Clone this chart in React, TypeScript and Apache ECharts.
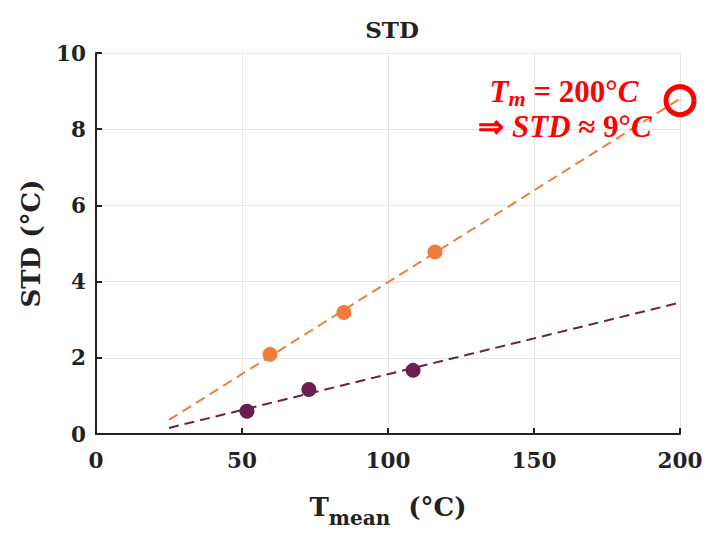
import React, { useEffect, useRef } from "react";
import * as echarts from "echarts";

const xTicks = [0, 50, 100, 150, 200];
const yTicks = [0, 2, 4, 6, 8, 10];
const orangePoints: [number, number][] = [[59.6, 2.09], [84.9, 3.19], [116.1, 4.78]];
const purplePoints: [number, number][] = [[51.7, 0.6], [72.9, 1.17], [108.6, 1.67]];
const orangeFit: [number, number][] = [[25, 0.37], [200, 8.8]];
const purpleFit: [number, number][] = [[25, 0.16], [200, 3.45]];
const highlight: [number, number][] = [[200, 8.75]];

const ORANGE = "#EE7E3A";
const PURPLE = "#6B1F4C";
const SERIF = "'DejaVu Serif', 'Liberation Serif', serif";
const ANN = "'Liberation Serif', serif";

export default function App() {
  const ref = useRef<HTMLDivElement>(null);
  useEffect(() => {
    if (!ref.current) return;
    const chart = echarts.init(ref.current, undefined, { renderer: "svg" });
    chart.setOption({
      animation: false,
      backgroundColor: "#ffffff",
      title: {
        text: "STD",
        left: 387,
        top: 13,
        textAlign: "center",
        textStyle: { fontFamily: SERIF, fontWeight: "bold", fontSize: 23, color: "#222" },
      },
      grid: { left: 96, right: 38, top: 53, bottom: 97, containLabel: false },
      xAxis: {
        type: "value",
        min: xTicks[0],
        max: xTicks[xTicks.length - 1],
        interval: 50,
        name: "{b|T}{s|mean}{b|  (°C)}",
        nameLocation: "middle",
        nameGap: 52,
        nameTextStyle: {
          rich: {
            b: { fontFamily: SERIF, fontWeight: "bold", fontSize: 26, color: "#222" },
            s: { fontFamily: SERIF, fontWeight: "bold", fontSize: 20, color: "#222", padding: [22, 0, 0, 0] },
          },
        },
        axisLine: { show: true, lineStyle: { color: "#222", width: 2 } },
        axisTick: { show: true, inside: true, length: 6, lineStyle: { color: "#222", width: 2 } },
        axisLabel: { fontFamily: SERIF, fontWeight: "bold", fontSize: 21.5, color: "#222", margin: 15 },
        splitLine: { show: true, lineStyle: { color: "#e6e6e6", width: 1 } },
      },
      yAxis: {
        type: "value",
        min: yTicks[0],
        max: yTicks[yTicks.length - 1],
        interval: 2,
        name: "STD (°C)",
        nameLocation: "middle",
        nameGap: 52,
        nameTextStyle: { fontFamily: SERIF, fontWeight: "bold", fontSize: 26, color: "#222" },
        axisLine: { show: true, lineStyle: { color: "#222", width: 2 } },
        axisTick: { show: true, inside: true, length: 6, lineStyle: { color: "#222", width: 2 } },
        axisLabel: { fontFamily: SERIF, fontWeight: "bold", fontSize: 21.5, color: "#222", margin: 10 },
        splitLine: { show: true, lineStyle: { color: "#e6e6e6", width: 1 } },
      },
      series: [
        {
          type: "line",
          data: orangeFit,
          symbol: "none",
          lineStyle: { color: ORANGE, width: 2, type: [10, 6] },
          z: 2,
        },
        {
          type: "line",
          data: purpleFit,
          symbol: "none",
          lineStyle: { color: PURPLE, width: 2, type: [10, 6] },
          z: 2,
        },
        {
          type: "scatter",
          data: orangePoints,
          symbolSize: 15,
          itemStyle: { color: ORANGE, opacity: 1 },
          z: 3,
        },
        {
          type: "scatter",
          data: purplePoints,
          symbolSize: 15,
          itemStyle: { color: PURPLE, opacity: 1 },
          z: 3,
        },
        {
          type: "scatter",
          data: highlight,
          symbol: "circle",
          symbolSize: 28,
          itemStyle: { color: "rgba(0,0,0,0)", borderColor: "#ff0000", borderWidth: 5, opacity: 1 },
          z: 4,
          clip: false,
        },
      ],
      graphic: [
        {
          type: "text",
          x: 564,
          y: 91,
          style: {
            text: "{i|T}{sub|m}{n| = 200°}{i|C}",
            align: "center",
            verticalAlign: "middle",
            rich: {
              i: { fontFamily: ANN, fontWeight: "bold", fontStyle: "italic", fontSize: 31, fill: "#ff0000" },
              sub: { fontFamily: ANN, fontWeight: "bold", fontStyle: "italic", fontSize: 22, fill: "#ff0000", padding: [14, 0, 0, 0] },
              n: { fontFamily: ANN, fontWeight: "bold", fontSize: 31, fill: "#ff0000" },
            },
          },
          z: 10,
        },
        {
          type: "text",
          x: 565,
          y: 126,
          style: {
            text: "{n|⇒ }{i|STD}{n| ≈ 9°}{i|C}",
            align: "center",
            verticalAlign: "middle",
            rich: {
              i: { fontFamily: ANN, fontWeight: "bold", fontStyle: "italic", fontSize: 31, fill: "#ff0000" },
              n: { fontFamily: ANN, fontWeight: "bold", fontSize: 31, fill: "#ff0000" },
            },
          },
          z: 10,
        },
      ],
    });
    return () => chart.dispose();
  }, []);
  return <div ref={ref} style={{ width: 718, height: 533, margin: -8 }} />;
}
